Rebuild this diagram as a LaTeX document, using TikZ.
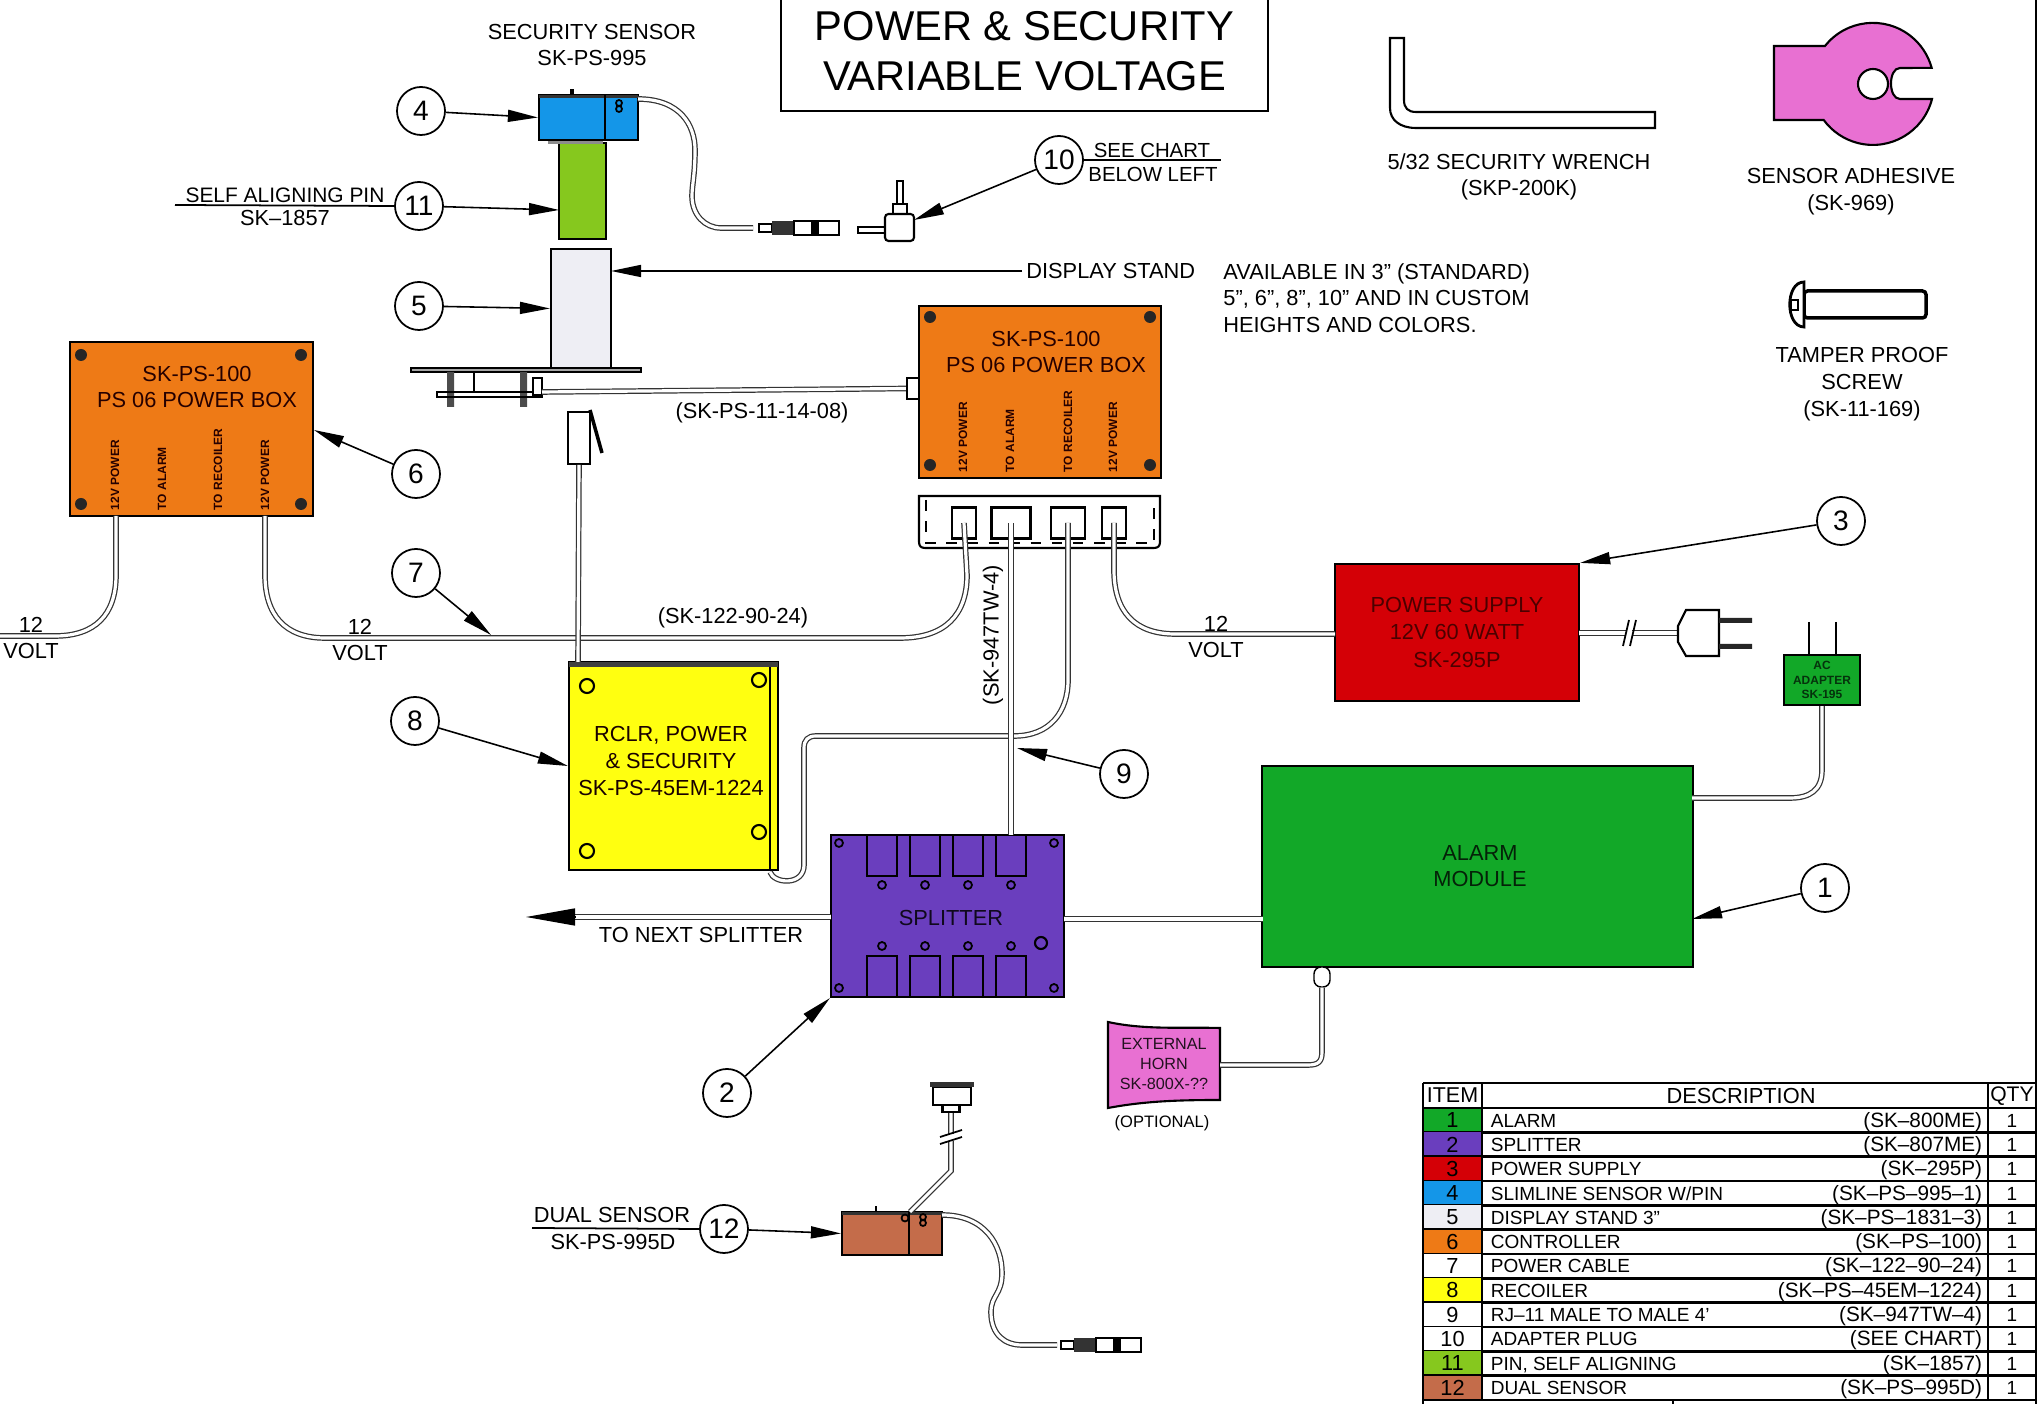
\documentclass[tikz,border=0pt]{standalone}
\usepackage{fontspec}
\setmainfont{Liberation Sans}
\usetikzlibrary{arrows.meta}
\definecolor{alarmgreen}{RGB}{18,168,40}
\definecolor{splitviolet}{RGB}{106,62,190}
\definecolor{supplyred}{RGB}{212,0,6}
\definecolor{sensorblue}{RGB}{20,150,232}
\definecolor{standgray}{RGB}{238,238,244}
\definecolor{boxorange}{RGB}{238,122,22}
\definecolor{rclryellow}{RGB}{255,255,16}
\definecolor{pinlime}{RGB}{134,200,30}
\definecolor{dualbrown}{RGB}{196,108,74}
\definecolor{hornpink}{RGB}{232,112,210}
\begin{document}
\begin{tikzpicture}[x=0.01cm, y=-0.01cm, line width=.5pt]
  % Styles
  \tikzset{unit/.style={draw=black, line width=.6pt, inner sep=0pt, align=center}}
  \tikzset{lbl/.style={font=\fontsize{6.2}{7.6}\selectfont, align=center, inner sep=1pt}}
  \tikzset{vlbl/.style={font=\fontsize{3.4}{4}\selectfont\bfseries, rotate=90, anchor=west, inner sep=0pt, text=black!85!red}}
  \tikzset{callout/.style={draw, circle, minimum size=.48cm, inner sep=0pt, fill=white, font=\fontsize{8}{9}\selectfont}}
  \tikzset{lead/.style={-{Triangle[length=3mm,width=1.2mm]}, line width=.45pt}}
  \tikzset{cable/.style={draw=black!80, line width=.35pt, double=white, double distance=.9pt}}
  \tikzset{rowtxt/.style={font=\fontsize{5.4}{6}\selectfont, inner sep=0pt, text height=3.9pt, text depth=0pt}}

  \useasboundingbox (0,0) rectangle (2044,1404);

  % --- Title and loose parts ---
  \node[unit, minimum width=4.87cm, minimum height=1.2cm, font=\fontsize{11.85}{14.2}\selectfont] (title) at (1024.5,51) {POWER \& SECURITY\\VARIABLE VOLTAGE};
  \draw[line width=.6pt] (1390,38) -- (1404,38) -- (1404,100) .. controls (1404,108) and (1408,112) .. (1416,112) -- (1655,112) -- (1655,128) -- (1416,128) .. controls (1400,128) and (1390,120) .. (1390,108) -- cycle;
  \node[lbl] (wrench) at (1519,177) {5/32 SECURITY WRENCH\\(SKP-200K)};
  \filldraw[fill=hornpink, line width=.6pt] (1774,46) -- (1825,46) arc[start angle=-141.6, end angle=-15.2, radius=61] -- (1900,68) .. controls (1888,68) and (1888,99) .. (1900,99) -- (1932,99) arc[start angle=14.3, end angle=143.7, radius=61] -- (1774,120) -- cycle;
  \filldraw[fill=white, line width=.6pt] (1873,84) circle (15);
  \node[lbl] (adhesive) at (1851,192) {SENSOR ADHESIVE\\(SK-969)};
  \filldraw[fill=white, line width=1pt, rounded corners=1pt] (1804,291) rectangle (1926,318);
  \filldraw[fill=white, line width=.8pt] (1804,282) .. controls (1785,282) and (1785,327) .. (1804,327) -- cycle;
  \draw (1791,300) rectangle (1798,310);
  \node[lbl] (screw) at (1862,384) {TAMPER PROOF\\SCREW\\(SK-11-169)};

  % --- Security sensor with pin and stand ---
  \node[unit, fill=pinlime, minimum width=.47cm, minimum height=.96cm] (pin) at (582.5,191) {};
  \fill[black!45] (548,140) rectangle (603,144);
  \node[unit, fill=sensorblue, minimum width=.99cm, minimum height=.45cm] (bsensor) at (588.5,117.5) {};
  \fill[black!80] (539,95) rectangle (638,98);
  \draw[line width=.9pt] (572,95) -- (572,89);
  \draw[line width=.6pt] (605,95) -- (605,140);
  \draw (619,103) circle (3) (619,109) circle (3);
  \node[lbl] (sectxt) at (592,45) {SECURITY SENSOR\\SK-PS-995};
  \node[unit, fill=standgray, minimum width=.6cm, minimum height=1.19cm] (stand) at (581,308.5) {};
  \filldraw[fill=black!35, line width=.6pt] (411,368) rectangle (641,372);
  \fill[black!70] (447,372) rectangle (454,407) (520,372) rectangle (527,407);
  \draw (437,392) rectangle (542,397) (474,372) -- (474,392);
  \draw[fill=white] (533,378) rectangle (542,395);
  \node[unit, fill=white, minimum width=.13cm, minimum height=.21cm] (boxplug) at (913.5,388.5) {};
  \draw[cable] (542,392) -- (boxplug.west);
  \node[lbl] (mounttxt) at (762,413) {(SK-PS-11-14-08)};
  \node[lbl, anchor=west] (dsptxt) at (1022,271) {DISPLAY STAND};
  \coordinate (dspend) at (611,271);
  \draw[lead] (dsptxt.west) -- (dspend);
  \node[lbl, anchor=west, align=left] (availtxt) at (1219,298) {AVAILABLE IN 3" (STANDARD)\\5", 6", 8", 10" AND IN CUSTOM\\HEIGHTS AND COLORS.};

  % --- Adapter plug and jacks ---
  \foreach \jx/\jy in {759/228, 1061/1345} {
    \filldraw[fill=white] (\jx,\jy-4) rectangle (\jx+13,\jy+4);
    \fill[black!80] (\jx+13,\jy-7) rectangle (\jx+35,\jy+7);
    \filldraw[fill=white, line width=.6pt] (\jx+35,\jy-7) rectangle (\jx+80,\jy+7);
    \fill (\jx+52,\jy-7) rectangle (\jx+60,\jy+7);
  }
  \draw (858,227) rectangle (885,233);
  \filldraw[fill=white, line width=.6pt] (897,181) rectangle (903,204);
  \filldraw[fill=white, line width=.6pt] (893,204) rectangle (907,216);
  \node[unit, fill=white, rounded corners=1pt, minimum width=.29cm, minimum height=.27cm] (adapt) at (899.5,227.5) {};

  % --- The two power boxes ---
  \node[unit, fill=boxorange, minimum width=2.43cm, minimum height=1.74cm] (lbox) at (191.5,429) {};
  \node[unit, fill=boxorange, minimum width=2.41cm, minimum height=1.72cm] (rbox) at (1040,392) {};
  \node[lbl, text=black!85!red] (lboxtxt) at (197,387) {SK-PS-100\\PS 06 POWER BOX};
  \node[lbl, text=black!85!red] (rboxtxt) at (1046,352) {SK-PS-100\\PS 06 POWER BOX};
  \foreach \hx/\hy in {81/355, 301/355, 81/504, 301/504, 930/317, 1150/317, 930/465, 1150/465}
    \fill[black!85] (\hx,\hy) circle (6);
  \foreach \vx/\vt in {115/12V POWER, 162/TO ALARM, 218/TO RECOILER, 265/12V POWER}
    \node[vlbl] (lv\vx) at (\vx,511) {\vt};
  \foreach \vx/\vt in {963/12V POWER, 1010/TO ALARM, 1068/TO RECOILER, 1113/12V POWER}
    \node[vlbl] (rv\vx) at (\vx,473) {\vt};

  % --- Socket panel under the right box ---
  \draw[line width=.6pt] (919,496) -- (919,542) .. controls (919,546) and (921,548) .. (925,548) -- (1154,548) .. controls (1158,548) and (1160,546) .. (1160,542) -- (1160,496) -- cycle;
  \draw[dashed] (926,500) -- (926,543) -- (1154,543) -- (1154,500);
  \foreach \sx/\sw/\sn in {964/24/1, 1011/39/2, 1068/34/3, 1114/24/4}
    \node[unit, fill=white, minimum width=\sw*0.01cm, minimum height=.31cm] (sock\sn) at (\sx,523) {};

  % --- Main units ---
  \node[unit, fill=supplyred, minimum width=2.44cm, minimum height=1.37cm, text=black!70!red, font=\fontsize{6.2}{7.7}\selectfont] (psu) at (1457,632.5) {POWER SUPPLY\\12V 60 WATT\\SK-295P};
  \node[unit, fill=alarmgreen, minimum width=4.3cm, minimum height=2.01cm] (alarm) at (1477.5,866.5) {};
  \node[lbl, text=black!80!alarmgreen] (alarmtxt) at (1480,866) {ALARM\\MODULE};
  \node[unit, fill=rclryellow, minimum width=2.09cm, minimum height=2.08cm] (rclr) at (673.5,766) {};
  \fill[black!75] (569,662) rectangle (778,667);
  \draw[line width=.6pt] (770,667) -- (770,870);
  \foreach \hx/\hy in {587/686, 759/680, 759/832, 587/851}
    \draw[line width=.6pt] (\hx,\hy) circle (7);
  \node[lbl, text=black!90!red] (rclrtxt) at (671,761) {RCLR, POWER\\\& SECURITY\\SK-PS-45EM-1224};
  \node[unit, fill=splitviolet, minimum width=2.33cm, minimum height=1.62cm] (split) at (947.5,916) {};
  \foreach \px in {882, 925, 968, 1011} {
    \draw[line width=.6pt] (\px-15,835) rectangle (\px+15,876);
    \draw[line width=.6pt] (\px-15,956) rectangle (\px+15,997);
    \draw (\px,885) circle (4) (\px,946) circle (4);
  }
  \foreach \hx/\hy in {839/843, 1054/843, 839/988, 1054/988}
    \draw (\hx,\hy) circle (4);
  \draw[line width=.6pt] (1041,943) circle (6);
  \node[lbl, text=black!85!splitviolet] (splittxt) at (951,918) {SPLITTER};
  \node[unit, fill=alarmgreen, minimum width=.76cm, minimum height=.5cm, font=\fontsize{3.4}{4.2}\selectfont\bfseries, text=black!70!alarmgreen] (acad) at (1822,680) {AC\\ADAPTER\\SK-195};
  \draw[line width=.6pt] (1809,622) -- (1809,655) (1836,622) -- (1836,655);

  % --- Horn ---
  \filldraw[fill=hornpink, line width=.6pt] (1108,1022) .. controls (1145,1030) and (1180,1027) .. (1220,1028) -- (1220,1100) .. controls (1180,1100) and (1145,1101) .. (1108,1108) -- cycle;
  \node[font=\fontsize{4.6}{5.6}\selectfont, align=center, inner sep=0pt, text=black!85!hornpink] (horntxt) at (1164,1064) {EXTERNAL\\HORN\\SK-800X-??};
  \node[font=\fontsize{4.7}{5.6}\selectfont, inner sep=0pt] (opttxt) at (1162,1123) {(OPTIONAL)};
  \node[unit, fill=white, rounded corners=2pt, line width=.4pt, minimum width=.16cm, minimum height=.2cm] (hornjack) at (1322,977) {};
  \coordinate (hornport) at (1220,1065);
  \draw[cable] (hornport) -- (1308,1065) .. controls (1318,1065) and (1322,1062) .. (1322,1052) -- (hornjack.south);

  % --- Dual sensor ---
  \node[unit, fill=dualbrown, minimum width=1cm, minimum height=.43cm] (dual) at (892,1233.5) {};
  \fill[black!80] (842,1212) rectangle (942,1215);
  \draw[line width=.8pt] (876,1212) -- (876,1206);
  \draw[line width=.6pt] (909,1212) -- (909,1255);
  \draw (905,1218) circle (3.5);
  \draw (923,1217) circle (3) (923,1223) circle (3);
  \node[unit, fill=white, minimum width=.38cm, minimum height=.18cm] (cup) at (952,1096) {};
  \node[unit, fill=white, minimum width=.17cm, minimum height=.07cm] (neck) at (951,1108.5) {};
  \fill[black!80] (930,1082) rectangle (974,1087);
  \coordinate (dualtop) at (910,1212);
  \draw[cable] (dualtop) -- (951,1171) -- (neck.south);
  \fill[white] (939,1134) rectangle (963,1141);
  \draw (940,1137) -- (962,1130) (940,1144) -- (962,1137);
  \coordinate (dualrear) at (942,1215);
  \coordinate (dualend) at (1057,1345);
  \draw[cable] (dualrear) .. controls (985,1215) and (1002,1245) .. (1002,1273) .. controls (1002,1295) and (991,1295) .. (991,1312) .. controls (991,1335) and (1005,1345) .. (1022,1345) -- (dualend);

  % --- Cables ---
  \coordinate (snsrear) at (638,99);
  \coordinate (snsend) at (753,228);
  \draw[cable] (snsrear) .. controls (680,99) and (695,125) .. (695,150) .. controls (695,175) and (692,185) .. (692,196) .. controls (692,215) and (705,228) .. (721,228) -- (snsend);
  \coordinate (lport1) at (116,516);
  \coordinate (lport2) at (265,516);
  \coordinate (leftend) at (0,636);
  \draw[cable] (lport1) -- (116,575) .. controls (116,615) and (95,636) .. (55,636) -- (leftend);
  \draw[cable] (lport2) -- (265,575) .. controls (265,615) and (285,638) .. (325,638) -- (900,638) .. controls (945,638) and (967,615) .. (967,575) -- (sock1.center);
  \node[unit, fill=white, line width=.5pt, minimum width=.22cm, minimum height=.52cm] (rjplug) at (579,438) {};
  \draw[line width=1pt] (590,410) -- (602,453);
  \coordinate (rclrtop) at (578,662);
  \draw[cable] (rjplug.south) -- (rclrtop);
  \coordinate (rclrout) at (770,872);
  \draw[cable] (rclrout) .. controls (774,884) and (804,886) .. (804,865) -- (804,748) .. controls (804,740) and (808,736) .. (816,736) -- (1014,736) .. controls (1050,736) and (1068,712) .. (1068,680) -- (sock3.center);
  \coordinate (splittop) at (1011,835);
  \draw[cable] (splittop) -- (sock2.center);
  \coordinate (psuin) at (1335,634);
  \draw[cable] (sock4.center) -- (1114,570) .. controls (1114,612) and (1135,634) .. (1175,634) -- (psuin);
  \coordinate (psuout) at (1579,633);
  \coordinate (plugin) at (1679,633);
  \draw[cable] (psuout) -- (plugin);
  \fill[white] (1626,620) rectangle (1632,646);
  \draw (1623,646) -- (1629,620) (1630,646) -- (1636,620);
  \filldraw[fill=white, line width=.6pt] (1678,626) -- (1686,610) -- (1719,610) -- (1719,656) -- (1686,656) -- (1678,642) -- cycle;
  \fill[black!85] (1719,618) rectangle (1752,623) (1719,644) rectangle (1752,649);
  \coordinate (alarmin) at (1692,798);
  \draw[cable] (acad.south) -- (1822,770) .. controls (1822,790) and (1810,798) .. (1790,798) -- (alarmin);
  \coordinate (splitout) at (1064,919);
  \coordinate (alarmwest) at (1263,919);
  \draw[cable] (splitout) -- (alarmwest);
  \coordinate (splitwest) at (831,917);
  \coordinate (nextend) at (526,917);
  \draw[cable] (splitwest) -- (570,917);
  \draw[-{Triangle[length=4.9mm,width=1.7mm]}, line width=.4pt] (575,917) -- (nextend);
  \node[lbl] (nexttxt) at (701,935) {TO NEXT SPLITTER};

  % --- Cable labels ---
  \foreach \vn/\vx/\vy in {a/31/636, b/360/638, c/1216/635} {
    \node[lbl, anchor=south] (tw\vn) at (\vx,\vy+1) {12};
    \node[lbl, anchor=north] (vt\vn) at (\vx,\vy+3) {VOLT};
  }
  \node[lbl] (pwrtxt) at (733,618) {(SK-122-90-24)};
  \node[lbl, rotate=90] (rjtxt) at (993,635) {(SK-947TW-4)};

  % --- Callouts ---
  \node[callout] (c1) at (1825,888) {1};
  \node[callout] (c2) at (727,1093) {2};
  \node[callout] (c3) at (1841,521) {3};
  \node[callout] (c4) at (421,111) {4};
  \node[callout] (c5) at (419,306) {5};
  \node[callout] (c6) at (416,474) {6};
  \node[callout] (c7) at (416,573) {7};
  \node[callout] (c8) at (415,721) {8};
  \node[callout] (c9) at (1124,774) {9};
  \node[callout] (c10) at (1059,160) {10};
  \node[callout] (c11) at (419,206) {11};
  \node[callout] (c12) at (724,1229) {12};
  \coordinate (tip1) at (1692,919);
  \coordinate (tip6) at (314,430);
  \coordinate (tip7) at (491,635);
  \coordinate (tip9) at (1017,748);
  \coordinate (tip10) at (914,220);
  \coordinate (tip11) at (559,210);
  \draw[lead] (c1) -- (tip1);
  \draw[lead] (c2) -- (split.south west);
  \draw[lead] (c3) -- (psu.north east);
  \draw[lead] (c4) -- (bsensor.west);
  \draw[lead] (c5) -- (stand.west);
  \draw[lead] (c6) -- (tip6);
  \draw[lead] (c7) -- (tip7);
  \draw[lead] (c8) -- (rclr.west);
  \draw[lead] (c9) -- (tip9);
  \draw[lead] (c10) -- (tip10);
  \draw[lead] (c11) -- (tip11);
  \draw[lead] (c12) -- (dual.west);
  \coordinate (pinline) at (175,205);
  \draw (pinline) -- (c11.west);
  \node[lbl, font=\fontsize{5.95}{7}\selectfont] (pintxt) at (285,195) {SELF ALIGNING PIN};
  \node[lbl] (pinpart) at (285,218) {SK--1857};
  \coordinate (chartline) at (1221,160);
  \draw (c10.east) -- (chartline);
  \node[lbl, font=\fontsize{5.8}{7}\selectfont] (charttxt) at (1152,150) {SEE CHART};
  \node[lbl, font=\fontsize{5.8}{7}\selectfont] (charttxtb) at (1153,174) {BELOW LEFT};
  \coordinate (dualline) at (532,1228);
  \draw (dualline) -- (c12.west);
  \node[lbl] (dualtxt) at (612,1215) {DUAL SENSOR};
  \node[lbl] (dualpart) at (613,1242) {SK-PS-995D};

  % --- Parts table ---
  \node[font=\fontsize{6.1}{7}\selectfont, inner sep=0pt] (hitem) at (1452.5,1095) {ITEM};
  \node[font=\fontsize{6.2}{7}\selectfont, inner sep=0pt] (hdesc) at (1741,1096) {DESCRIPTION};
  \node[font=\fontsize{6}{7}\selectfont, inner sep=0pt] (hqty) at (2012,1096) {QTY};
  \foreach \n/\dsc/\part/\cl in {1/ALARM/(SK--800ME)/alarmgreen, 2/SPLITTER/(SK--807ME)/splitviolet,
      3/POWER SUPPLY/(SK--295P)/supplyred, 4/SLIMLINE SENSOR W\slash PIN/(SK--PS--995--1)/sensorblue,
      5/DISPLAY STAND 3"/(SK--PS--1831--3)/standgray, 6/CONTROLLER/(SK--PS--100)/boxorange,
      7/POWER CABLE/(SK--122--90--24)/white, 8/RECOILER/(SK--PS--45EM--1224)/rclryellow,
      9/RJ--11 MALE TO MALE 4'/(SK--947TW--4)/white, 10/ADAPTER PLUG/(SEE CHART)/white,
      11/{PIN, SELF ALIGNING}/(SK--1857)/pinlime, 12/DUAL SENSOR/(SK--PS--995D)/dualbrown} {
    \pgfmathsetmacro{\rowy}{1108+24.33*(\n-0.5)}
    \node[fill=\cl, minimum width=.59cm, minimum height=.243cm, inner sep=0pt, font=\fontsize{6.2}{7}\selectfont] (item\n) at (1452.5,\rowy) {\n};
    \node[rowtxt, anchor=west] (desc\n) at (1490,\rowy) {\dsc};
    \node[rowtxt, anchor=east, font=\fontsize{5.9}{6}\selectfont] (part\n) at (1983,\rowy) {\part};
    \node[rowtxt] (qty\n) at (2012,\rowy) {1};
    \draw[line width=.75pt] (1423,\rowy+12.16) -- (2036,\rowy+12.16);
  }
  \draw[line width=.75pt] (1423,1083) -- (2036,1083) (1423,1108) -- (2036,1108);
  \draw[line width=.75pt] (1423,1083) -- (1423,1404) (1482,1083) -- (1482,1400) (1988,1083) -- (1988,1400);
  \draw[line width=.6pt] (1673,1400) -- (1673,1404);
  \draw[line width=.6pt] (2036,0) -- (2036,1404);
\end{tikzpicture}
\end{document}
